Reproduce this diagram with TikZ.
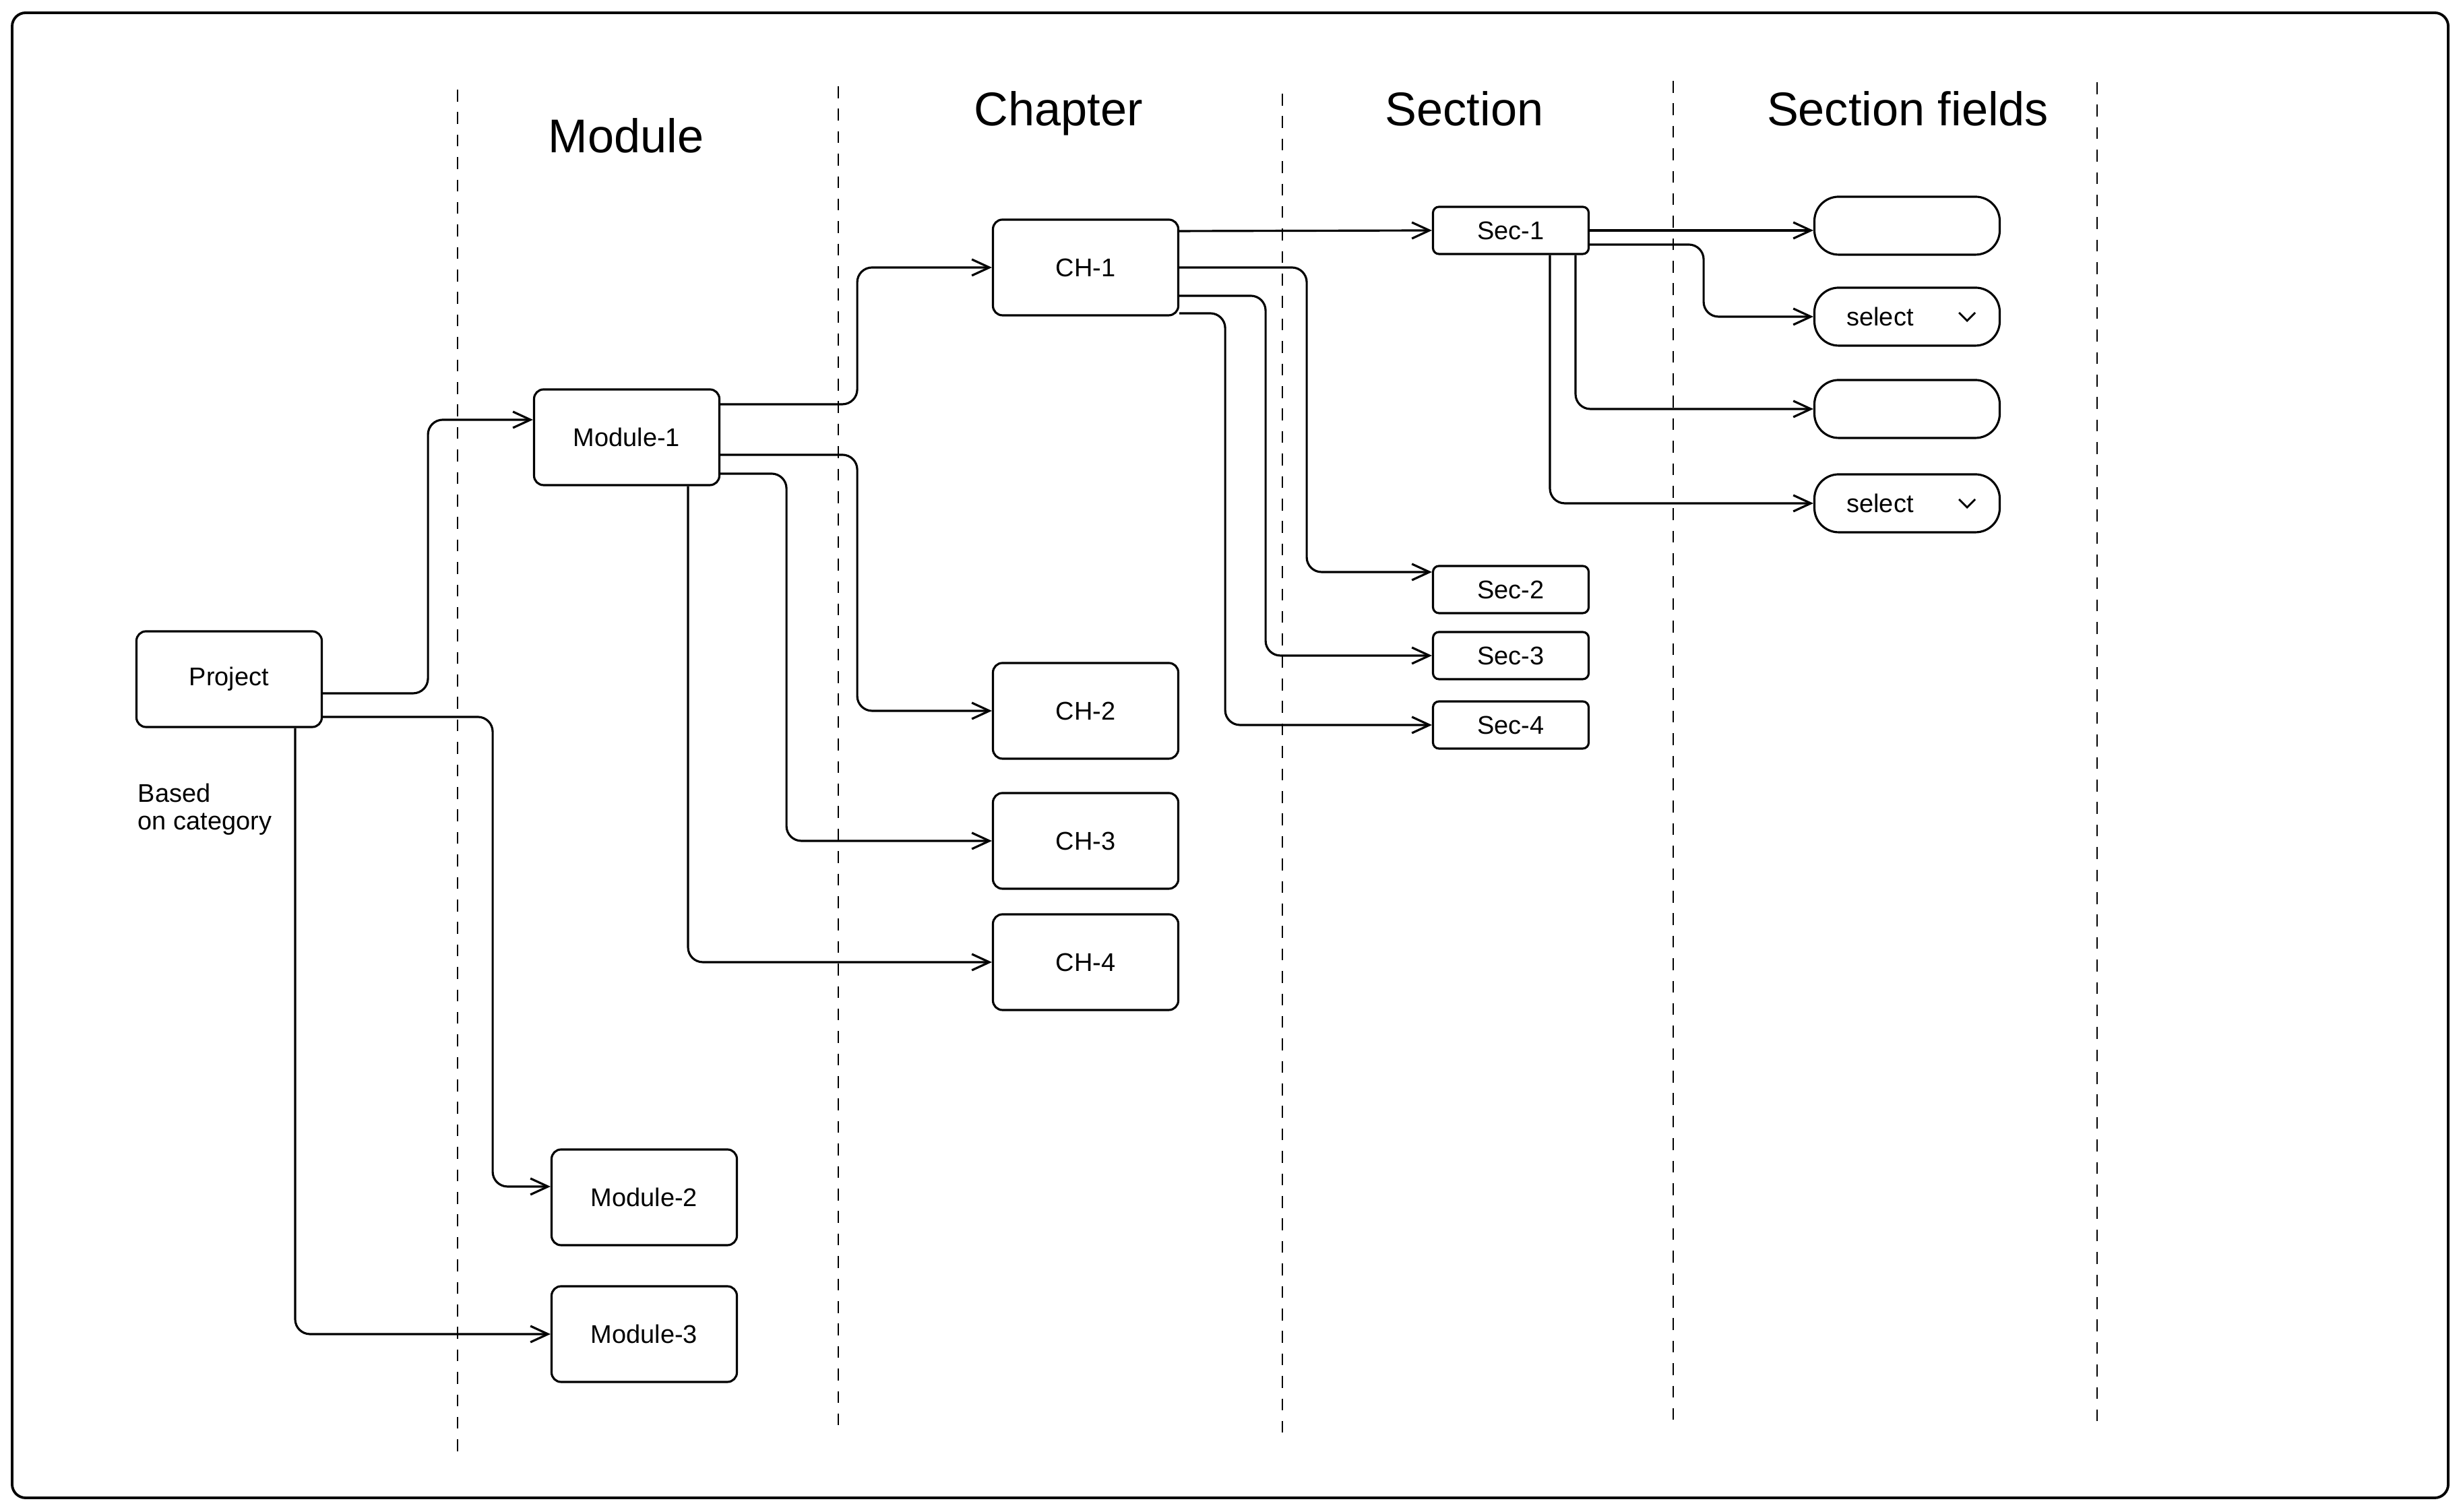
\documentclass[tikz,border=0pt]{standalone}
\usepackage{fontspec}
\setmainfont{Liberation Sans}
\usetikzlibrary{arrows.meta}

\begin{document}
\begin{tikzpicture}[
  box/.style={draw,line width=0.9pt,rounded corners=4pt,minimum width=2.75cm,minimum height=1.42cm,font=\fontsize{10.8}{13}\selectfont},
  secbox/.style={draw,line width=0.9pt,rounded corners=2.5pt,minimum width=2.31cm,minimum height=0.70cm,font=\fontsize{10.8}{13}\selectfont},
  field/.style={draw,line width=0.9pt,rounded corners=0.36cm,minimum width=2.75cm,minimum height=0.86cm,font=\fontsize{10.8}{13}\selectfont},
  head/.style={anchor=base,font=\fontsize{20}{24}\selectfont},
  lane/.style={line width=0.7pt,dash pattern=on 5pt off 4.5pt},
  link/.style={line width=0.9pt,rounded corners=0.22cm,-{Straight Barb[length=2.6mm,width=2.4mm]}},
  inner sep=0pt]
  \useasboundingbox (0,0) rectangle (36.55,22.44);
  \draw[line width=1.1pt,rounded corners=0.2cm] (0.18,0.21) rectangle (36.33,22.25);

  % swim lanes
  \foreach \x/\t/\b in {6.79/21.11/0.88,12.44/21.16/1.24,19.03/21.05/1.12,24.83/21.24/1.31,31.12/21.22/1.29}
    \draw[lane] (\x,\t) -- (\x,\b);
  \node[head] (hmod) at (9.29,20.17) {Module};
  \node[head] (hch) at (15.71,20.57) {Chapter};
  \node[head] (hsec) at (21.73,20.57) {Section};
  \node[head] (hfld) at (28.31,20.57) {Section fields};

  % boxes
  \node[box] (project) at (3.40,12.36) {Project};
  \node[anchor=north west,align=left,font=\fontsize{10.8}{11.8}\selectfont] (note) at (2.04,10.82) {Based\\on category};
  \node[box] (mod1) at (9.30,15.95) {Module-1};
  \node[box] (mod2) at (9.56,4.67) {Module-2};
  \node[box] (mod3) at (9.56,2.64) {Module-3};
  \node[box] (ch1) at (16.11,18.47) {CH-1};
  \node[box] (ch2) at (16.11,11.89) {CH-2};
  \node[box] (ch3) at (16.11,9.96) {CH-3};
  \node[box] (ch4) at (16.11,8.16) {CH-4};
  \node[secbox] (sec1) at (22.42,19.02) {Sec-1};
  \node[secbox] (sec2) at (22.42,13.69) {Sec-2};
  \node[secbox] (sec3) at (22.42,12.71) {Sec-3};
  \node[secbox] (sec4) at (22.42,11.68) {Sec-4};
  \node[field] (fld1) at (28.30,19.09) {};
  \node[field] (fld2) at (28.30,17.74) {select\hspace*{0.8cm}};
  \node[field] (fld3) at (28.30,16.37) {};
  \node[field] (fld4) at (28.30,14.97) {select\hspace*{0.8cm}};
  \foreach \f in {fld2,fld4}
    \draw[line width=0.8pt] ([xshift=-0.62cm,yshift=0.06cm]\f.east) -- ++(0.12,-0.12) -- ++(0.12,0.12);

  % links
  \draw[link] ([yshift=-0.21cm]project.east) -- ++(1.56,0) |- ([yshift=0.26cm]mod1.west);
  \draw[link] ([yshift=-0.56cm]project.east) -- ++(2.52,0) |- ([yshift=0.16cm]mod2.west);
  \draw[link] ([xshift=0.98cm]project.south) |- (mod3.west);
  \draw[link] ([yshift=0.49cm]mod1.east) -- ++(2.03,0) |- (ch1.west);
  \draw[link] ([yshift=-0.26cm]mod1.east) -- ++(2.03,0) |- (ch2.west);
  \draw[link] ([yshift=-0.54cm]mod1.east) -- ++(0.98,0) |- (ch3.west);
  \draw[link] ([xshift=0.91cm]mod1.south) |- (ch4.west);
  \draw[link] ([yshift=0.54cm]ch1.east) -- (sec1.west);
  \draw[link] (ch1.east) -- ++(1.89,0) |- ([yshift=0.26cm]sec2.west);
  \draw[link] ([yshift=-0.42cm]ch1.east) -- ++(1.28,0) |- (sec3.west);
  \draw[link] ([yshift=-0.68cm]ch1.east) -- ++(0.68,0) |- (sec4.west);
  \draw[link] (sec1.east) -- (sec1.east -| fld1.west);
  \draw[link] ([yshift=-0.21cm]sec1.east) -- ++(1.69,0) |- (fld2.west);
  \draw[link] ([xshift=0.96cm]sec1.south) |- (fld3.west);
  \draw[link] ([xshift=0.58cm]sec1.south) |- (fld4.west);
\end{tikzpicture}
\end{document}
